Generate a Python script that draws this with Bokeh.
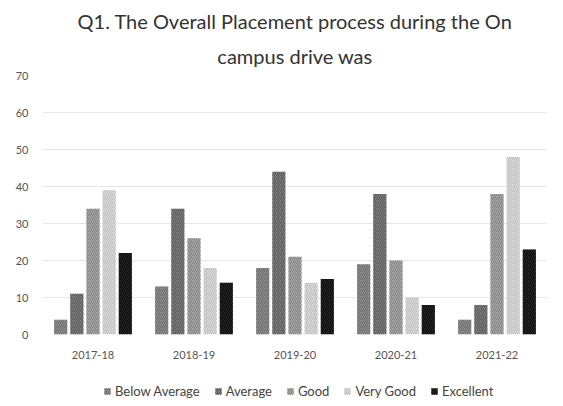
from bokeh.plotting import figure
from bokeh.layouts import column
from bokeh.models import ColumnDataSource, Title, Legend, LegendItem, FixedTicker, Range1d, FactorRange
from bokeh.transform import dodge
from bokeh.embed import file_html
from bokeh.resources import INLINE

years = ["2017-18", "2018-19", "2019-20", "2020-21", "2021-22"]
series = ["Below Average", "Average", "Good", "Very Good", "Excellent"]
below_average = [4, 13, 18, 19, 4]
average = [11, 34, 44, 38, 8]
good = [34, 26, 21, 20, 38]
very_good = [39, 18, 14, 10, 48]
excellent = [22, 14, 15, 8, 23]
y_ticks = [0, 10, 20, 30, 40, 50, 60, 70]

values = [below_average, average, good, very_good, excellent]
fills = ["#8c8c8c", "#7a7a7a", "#a6a6a6", "#d9d9d9", "#222222"]
hatches = ["#555555", "#444444", "#666666", "#aaaaaa", "#000000"]
offsets = [-0.32, -0.16, 0.0, 0.16, 0.32]

FONT = "Lato"

p = figure(x_range=years, y_range=(0, 70), width=547, height=374,
           output_backend="svg", toolbar_location=None,
           min_border_left=42, min_border_right=0, min_border_top=75, min_border_bottom=40)

data = {"year": years}
for s, v in zip(series, values):
    data[s] = v
src = ColumnDataSource(data)

for s, f, h, o in zip(series, fills, hatches, offsets):
    p.vbar(x=dodge("year", o, range=p.x_range), top=s, width=0.13, source=src,
           fill_color=f, line_color=None, hatch_pattern="/", hatch_color=h,
           hatch_alpha=0.55, hatch_scale=4, hatch_weight=1)

p.add_layout(Title(text="campus drive was", align="center", text_font=FONT,
                   text_font_size="20px", text_font_style="normal", text_color="#333333",
                   standoff=16), "above")
p.add_layout(Title(text="Q1. The Overall Placement process during the On", align="center",
                   text_font=FONT, text_font_size="20px", text_font_style="normal",
                   text_color="#333333", standoff=2), "above")

p.yaxis.ticker = FixedTicker(ticks=y_ticks)
for ax in (p.xaxis, p.yaxis):
    ax.axis_line_color = None
    ax.major_tick_line_color = None
    ax.minor_tick_line_color = None
    ax.major_tick_out = 0
    ax.major_label_text_font = FONT
    ax.major_label_text_font_size = "11px"
    ax.major_label_text_color = "#555555"
p.yaxis.major_label_standoff = 14
p.xaxis.major_label_standoff = 16

p.xgrid.grid_line_color = None
p.ygrid.grid_line_color = "#e6e6e6"
p.ygrid.grid_line_width = 1
p.outline_line_color = None

# legend strip: zero-size copies of the bars, out of view, so only the legend shows
pl = figure(width=547, height=25, output_backend="svg", toolbar_location=None,
            x_range=FactorRange(*years), y_range=Range1d(-1000, -999),
            x_axis_type=None, y_axis_type=None,
            min_border_left=0, min_border_right=0, min_border_top=0, min_border_bottom=0)
pl.grid.grid_line_color = None
pl.outline_line_color = None
items = []
for s, f, h, o in zip(series, fills, hatches, offsets):
    r = pl.vbar(x=dodge("year", o, range=pl.x_range), top=s, bottom=s, width=0, source=src,
                fill_color=f, line_color=None, hatch_pattern="/", hatch_color=h,
                hatch_alpha=0.55, hatch_scale=4, hatch_weight=1)
    items.append(LegendItem(label=s, renderers=[r]))
legend = Legend(items=items, orientation="horizontal", location=(61, 0),
                label_text_font=FONT, label_text_font_size="13px", label_text_color="#444444",
                glyph_width=8, glyph_height=8, spacing=14, label_standoff=4,
                border_line_color=None, background_fill_alpha=0, padding=2, margin=0)
pl.add_layout(legend, "center")

layout = column(p, pl, spacing=0)
open("out.html", "w").write(file_html(layout, INLINE))
